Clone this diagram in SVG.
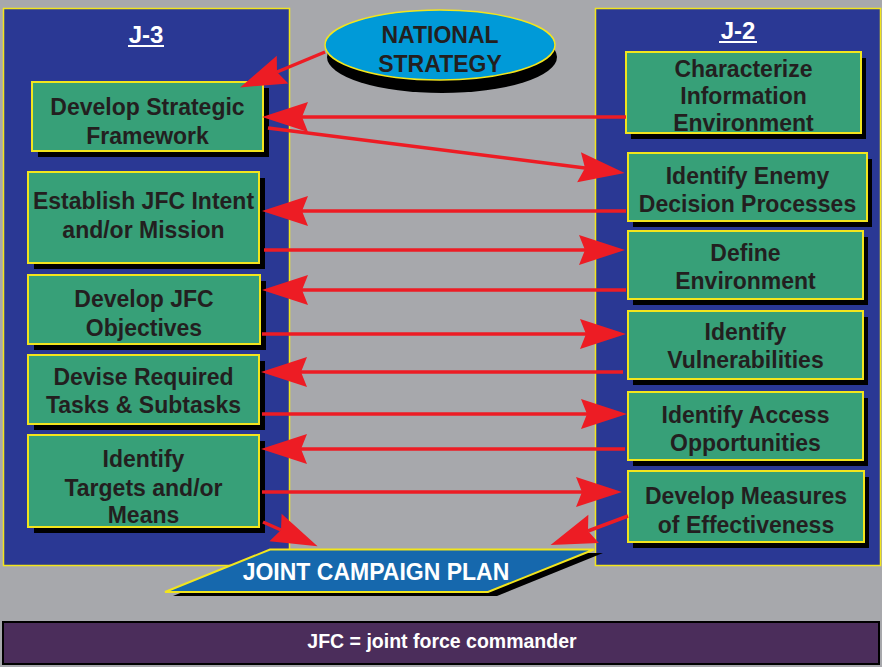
<svg xmlns="http://www.w3.org/2000/svg" width="882" height="667" viewBox="0 0 882 667">
<defs>
<style>
.panel{fill:#2a3894;stroke:#f2e51d;stroke-width:1.5}
.box{fill:#37a078;stroke:#f2e51d;stroke-width:2}
.shadow{fill:#000}
.t{font-family:"Liberation Sans",Arial,sans-serif;font-weight:bold;font-size:23px;fill:#231f20;text-anchor:middle}
.hdr{font-family:"Liberation Sans",Arial,sans-serif;font-weight:bold;font-size:24px;fill:#fff;text-anchor:middle}
.arr{fill:none;stroke:#ed1c24;stroke-width:3.5;marker-end:url(#ah)}
</style>
<marker id="ah" markerUnits="userSpaceOnUse" viewBox="-8 -16 50 32" markerWidth="50" markerHeight="32" refX="0" refY="0" orient="auto" overflow="visible">
<path d="M40,0 L-6,-15 L0,0 L-6,15 Z" fill="#ed1c24"/>
</marker>
</defs>
<rect x="0" y="0" width="882" height="667" fill="#a7a8ac"/>

<g id="panel-j3">
<rect class="panel" x="3.5" y="8.5" width="286" height="557"/>
<text class="hdr" x="146" y="43">J-3</text>
<rect x="128" y="45" width="36" height="2" fill="#fff"/>
</g>
<g id="panel-j2">
<rect class="panel" x="595.5" y="8.5" width="285" height="557"/>
<text class="hdr" x="738" y="39">J-2</text>
<rect x="719" y="41" width="38" height="2" fill="#fff"/>
</g>

<g id="national-strategy">
<ellipse cx="442" cy="57" rx="115" ry="36" fill="#000"/>
<ellipse cx="440" cy="45" rx="115" ry="35" fill="#009ad8" stroke="#f2e51d" stroke-width="1.5"/>
<text class="t" x="440" y="43">NATIONAL</text>
<text class="t" x="440" y="72">STRATEGY</text>
</g>

<g id="l1">
<rect class="shadow" x="38" y="88" width="231" height="69"/>
<rect class="box" x="32" y="82" width="231" height="69"/>
<text class="t" x="147.5" y="115">Develop Strategic</text>
<text class="t" x="147.5" y="144">Framework</text>
</g>
<g id="l2">
<rect class="shadow" x="34" y="178" width="231" height="91"/>
<rect class="box" x="28" y="172" width="231" height="91"/>
<text class="t" x="143.5" y="209">Establish JFC Intent</text>
<text class="t" x="143.5" y="238">and/or Mission</text>
</g>
<g id="l3">
<rect class="shadow" x="34" y="281" width="232" height="69"/>
<rect class="box" x="28" y="275" width="232" height="69"/>
<text class="t" x="144" y="307">Develop JFC</text>
<text class="t" x="144" y="336">Objectives</text>
</g>
<g id="l4">
<rect class="shadow" x="34" y="361" width="231" height="69"/>
<rect class="box" x="28" y="355" width="231" height="69"/>
<text class="t" x="143.5" y="385">Devise Required</text>
<text class="t" x="143.5" y="413">Tasks &amp; Subtasks</text>
</g>
<g id="l5">
<rect class="shadow" x="34" y="441" width="231" height="92"/>
<rect class="box" x="28" y="435" width="231" height="92"/>
<text class="t" x="143.5" y="467">Identify</text>
<text class="t" x="143.5" y="496">Targets and/or</text>
<text class="t" x="143.5" y="523">Means</text>
</g>

<g id="r1">
<rect class="shadow" x="631" y="58" width="235" height="81"/>
<rect class="box" x="626" y="52" width="235" height="81"/>
<text class="t" x="743.5" y="77">Characterize</text>
<text class="t" x="743.5" y="104">Information</text>
<text class="t" x="743.5" y="131">Environment</text>
</g>
<g id="r2">
<rect class="shadow" x="633" y="159" width="239" height="68"/>
<rect class="box" x="628" y="153" width="239" height="68"/>
<text class="t" x="747.5" y="184">Identify Enemy</text>
<text class="t" x="747.5" y="212">Decision Processes</text>
</g>
<g id="r3">
<rect class="shadow" x="633" y="237" width="235" height="68"/>
<rect class="box" x="628" y="231" width="235" height="68"/>
<text class="t" x="745.5" y="261">Define</text>
<text class="t" x="745.5" y="289">Environment</text>
</g>
<g id="r4">
<rect class="shadow" x="633" y="317" width="235" height="68"/>
<rect class="box" x="628" y="311" width="235" height="68"/>
<text class="t" x="745.5" y="340">Identify</text>
<text class="t" x="745.5" y="368">Vulnerabilities</text>
</g>
<g id="r5">
<rect class="shadow" x="633" y="398" width="235" height="68"/>
<rect class="box" x="628" y="392" width="235" height="68"/>
<text class="t" x="745.5" y="423">Identify Access</text>
<text class="t" x="745.5" y="451">Opportunities</text>
</g>
<g id="r6">
<rect class="shadow" x="633" y="477" width="236" height="71"/>
<rect class="box" x="628" y="471" width="236" height="71"/>
<text class="t" x="746" y="504">Develop Measures</text>
<text class="t" x="746" y="533">of Effectiveness</text>
</g>

<g id="joint-campaign-plan">
<polygon points="278,553 603,553 497,596 173,596" fill="#000"/>
<polygon points="270,549.5 594,549.5 488,592 165,592" fill="#1668ad" stroke="#f2e51d" stroke-width="2"/>
<text x="376" y="580" font-family="Liberation Sans, Arial, sans-serif" font-weight="bold" font-size="23" fill="#fff" text-anchor="middle">JOINT CAMPAIGN PLAN</text>
</g>

<g id="connectors">
<path class="arr" d="M325,52 L277,72"/>
<path class="arr" d="M626,117 L302,117"/>
<path class="arr" d="M268,128 L585,168"/>
<path class="arr" d="M626,211 L302,211"/>
<path class="arr" d="M264,250 L585,250"/>
<path class="arr" d="M626,290 L302,290"/>
<path class="arr" d="M262,334 L586,334"/>
<path class="arr" d="M623,372 L301,372"/>
<path class="arr" d="M262,414 L587,414"/>
<path class="arr" d="M625,449 L301,449"/>
<path class="arr" d="M262,492 L582,492"/>
<path class="arr" d="M263,522 L281,530"/>
<path class="arr" d="M628,516 L588,531"/>
</g>

<g id="legend">
<rect x="3" y="622" width="876" height="42" fill="#4b2d5b" stroke="#000" stroke-width="2"/>
<text x="442" y="648" font-family="Liberation Sans, Arial, sans-serif" font-weight="bold" font-size="19.5" fill="#fff" text-anchor="middle">JFC = joint force commander</text>
</g>
</svg>
